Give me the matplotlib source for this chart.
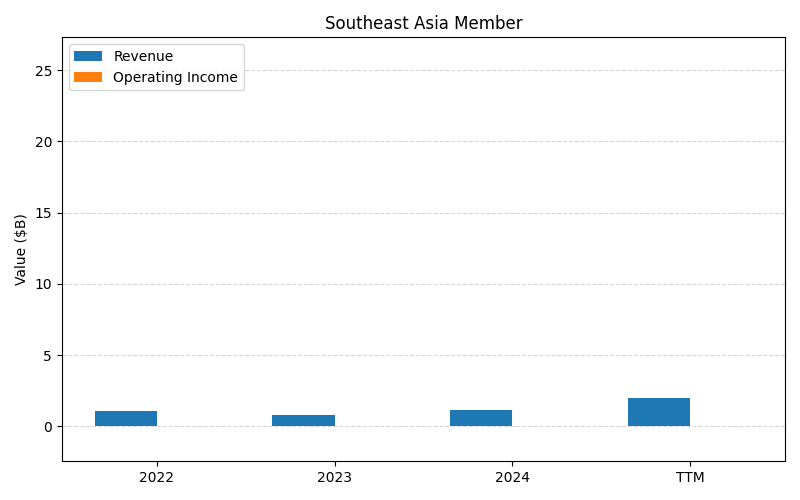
import matplotlib
matplotlib.use('Agg')
import matplotlib.pyplot as plt
import numpy as np

periods = ['2022', '2023', '2024', 'TTM']
revenue = [1.06, 0.77, 1.13, 1.97]
operating_income = [0.0, 0.0, 0.0, 0.0]

x = np.arange(len(periods))
w = 0.35

fig, ax = plt.subplots(figsize=(8, 5), dpi=100)
ax.bar(x - w / 2, revenue, w, label='Revenue', color='#1f77b4')
ax.bar(x + w / 2, operating_income, w, label='Operating Income', color='#ff7f0e')
ax.set_xticks(x)
ax.set_xticklabels(periods)
ax.set_ylim(-2.45, 27.3)
ax.set_ylabel('Value ($B)')
ax.set_title('Southeast Asia Member')
ax.yaxis.grid(True, linestyle='--', alpha=0.5)
ax.set_axisbelow(True)
ax.legend(loc='upper left')
fig.tight_layout()
fig.savefig('out.png')
